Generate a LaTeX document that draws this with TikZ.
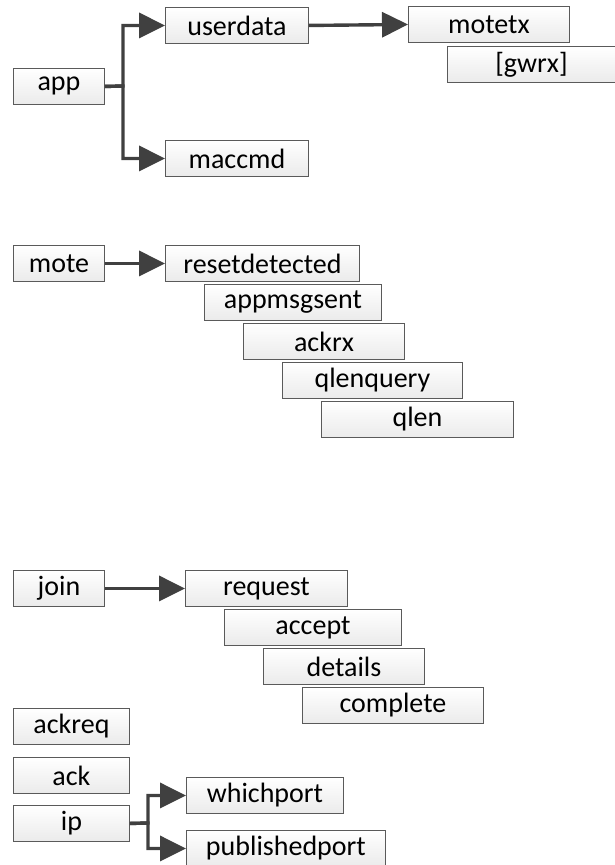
\documentclass[tikz,border=0pt]{standalone}
\usepackage{fontspec}
\setmainfont{Carlito}
\usetikzlibrary{arrows.meta}

\definecolor{boxline}{HTML}{5A5A5A}
\definecolor{arrowgray}{HTML}{404040}

\tikzset{
  msgbox/.style={draw=boxline, line width=0.9pt, top color=white, bottom color=black!8,
    anchor=north west, inner sep=0pt, minimum height=36pt,
    font=\fontsize{28}{30}\selectfont},
  flow/.style={draw=arrowgray, line width=3.4pt,
    -{Triangle[length=26pt,width=25pt]}}
}

\begin{document}
\begin{tikzpicture}[x=1pt,y=-1pt]
      \useasboundingbox (0,0) rectangle (615,865);
      % app tree
      \node [msgbox, minimum width=91pt] (app) at (13,68) {app};
      \node [msgbox, minimum width=143pt] (userdata) at (165,7) {userdata};
      \node [msgbox, minimum width=143pt] (maccmd) at (165,140) {maccmd};
      \node [msgbox, minimum width=161pt] (motetx) at (408,6) {motetx};
      \node [msgbox, minimum width=168pt] (gwrx) at (447,46) {[gwrx]};
      \draw [flow] (app.east) -- (123,86) |- (userdata.west);
      \draw [flow] (app.east) -- (123,86) |- (maccmd.west);
      \draw [flow] (userdata.east) -- (motetx.west);
      % mote
      \node [msgbox, minimum width=91pt] (mote) at (13,245) {mote};
      \node [msgbox, minimum width=194pt] (resetdetected) at (165,245) {resetdetected};
      \node [msgbox, minimum width=177pt] (appmsgsent) at (204,284) {appmsgsent};
      \node [msgbox, minimum width=161pt] (ackrx) at (243,323) {ackrx};
      \node [msgbox, minimum width=180pt] (qlenquery) at (282,362) {qlenquery};
      \node [msgbox, minimum width=192pt] (qlen) at (321,401) {qlen};
      \draw [flow] (mote.east) -- (resetdetected.west);
      % join
      \node [msgbox, minimum width=91pt] (join) at (13,570) {join};
      \node [msgbox, minimum width=162pt] (request) at (185,570) {request};
      \node [msgbox, minimum width=177pt] (accept) at (224,609) {accept};
      \node [msgbox, minimum width=161pt] (details) at (263,648) {details};
      \node [msgbox, minimum width=181pt] (complete) at (302,687) {complete};
      \draw [flow] (join.east) -- (request.west);
      % single ones
      \node [msgbox, minimum width=116pt] (ackreq) at (13,708) {ackreq};
      \node [msgbox, minimum width=116pt] (ack) at (13,757) {ack};
      \node [msgbox, minimum width=116pt] (ip) at (13,805) {ip};
      \node [msgbox, minimum width=157pt] (whichport) at (186,777) {whichport};
      \node [msgbox, minimum width=199pt] (publishedport) at (186,830) {publishedport};
      \draw [flow] (ip.east) -- (148,823) |- (whichport.west);
      \draw [flow] (ip.east) -- (148,823) |- (publishedport.west);
\end{tikzpicture}
\end{document}
